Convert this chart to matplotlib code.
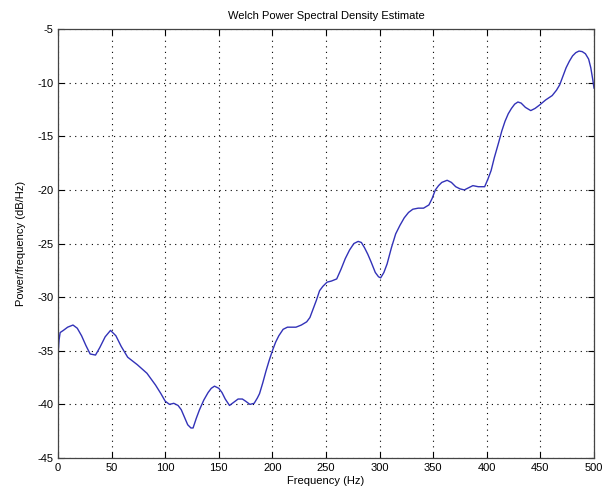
import matplotlib
matplotlib.use("Agg")
import matplotlib.pyplot as plt

# Welch PSD estimate, frequency in Hz and power in dB/Hz
freq_hz = [
    0, 1, 2, 5, 9, 14, 18, 22, 26, 30, 35, 39, 44, 49, 54, 59, 65, 74, 83, 91,
    96, 100, 104, 108, 112, 115, 118, 121, 124, 126, 129, 132, 136, 140, 143,
    146, 150, 153, 156, 160, 164, 168, 172, 175, 179, 183, 186, 188, 191, 194,
    197, 200, 203, 206, 210, 214, 218, 222, 227, 232, 235, 238, 241, 244, 247,
    251, 255, 260, 264, 268, 272, 276, 280, 283, 286, 289, 292, 296, 299, 301,
    304, 307, 311, 315, 319, 323, 327, 331, 336, 341, 346, 349, 352, 355, 358,
    363, 367, 371, 375, 379, 383, 387, 392, 398, 401, 404, 407, 411, 414, 417,
    420, 423, 426, 429, 432, 436, 441, 445, 449, 455, 461, 465, 468, 471, 474,
    477, 480, 483, 486, 489, 492, 495, 497, 499, 500,
]
power_db = [
    -35.5, -34.0, -33.3, -33.1, -32.8, -32.6, -32.9, -33.6, -34.5, -35.3,
    -35.4, -34.7, -33.7, -33.1, -33.6, -34.6, -35.6, -36.3, -37.1, -38.2,
    -39.0, -39.7, -40.0, -39.9, -40.1, -40.5, -41.2, -41.9, -42.2, -42.2,
    -41.3, -40.5, -39.6, -38.9, -38.5, -38.3, -38.5, -38.9, -39.5, -40.1,
    -39.8, -39.5, -39.5, -39.7, -40.0, -39.9, -39.4, -39.0, -38.0, -36.9,
    -35.9, -35.0, -34.2, -33.6, -33.0, -32.8, -32.8, -32.8, -32.6, -32.3,
    -31.9, -31.1, -30.3, -29.4, -29.0, -28.6, -28.5, -28.3, -27.4, -26.4,
    -25.6, -25.0, -24.8, -24.9, -25.4, -26.0, -26.7, -27.7, -28.1, -28.2,
    -27.7, -26.9, -25.4, -24.1, -23.3, -22.6, -22.1, -21.8, -21.7, -21.7,
    -21.4, -20.8, -20.0, -19.6, -19.3, -19.1, -19.3, -19.7, -19.9, -20.0,
    -19.8, -19.6, -19.7, -19.7, -19.0, -18.2, -17.0, -15.6, -14.5, -13.6,
    -12.9, -12.4, -12.0, -11.8, -11.9, -12.3, -12.6, -12.4, -12.1, -11.6,
    -11.2, -10.7, -10.2, -9.4, -8.6, -8.0, -7.5, -7.2, -7.05, -7.1,
    -7.3, -7.8, -8.6, -9.8, -10.5,
]
x_ticks = [0, 50, 100, 150, 200, 250, 300, 350, 400, 450, 500]
y_ticks = [-45, -40, -35, -30, -25, -20, -15, -10, -5]

plt.rcParams["font.family"] = ["Liberation Sans", "DejaVu Sans"]
plt.rcParams["font.size"] = 8
plt.rcParams["axes.unicode_minus"] = False

fig = plt.figure(figsize=(6.13, 4.93), dpi=100)
ax = fig.add_axes([0.0946, 0.071, 0.8744, 0.870])

ax.plot(freq_hz, power_db, color="#3232b8", linewidth=1.0)

ax.set_xlim(0, 500)
ax.set_ylim(-45, -5)
ax.set_xticks(x_ticks)
ax.set_yticks(y_ticks)
ax.grid(True, color="black", linestyle=(0, (1, 4)), linewidth=0.8)
ax.tick_params(direction="in", top=True, right=True, length=4,
               width=0.8, labelsize=8, colors="black")
for side in ax.spines.values():
    side.set_color("#444444")
    side.set_linewidth(0.9)

ax.set_title("Welch Power Spectral Density Estimate", fontsize=8, pad=7)
ax.set_xlabel("Frequency (Hz)", fontsize=8, labelpad=2)
ax.set_ylabel("Power/frequency (dB/Hz)", fontsize=8, labelpad=8)

fig.savefig("out.png", dpi=100)
